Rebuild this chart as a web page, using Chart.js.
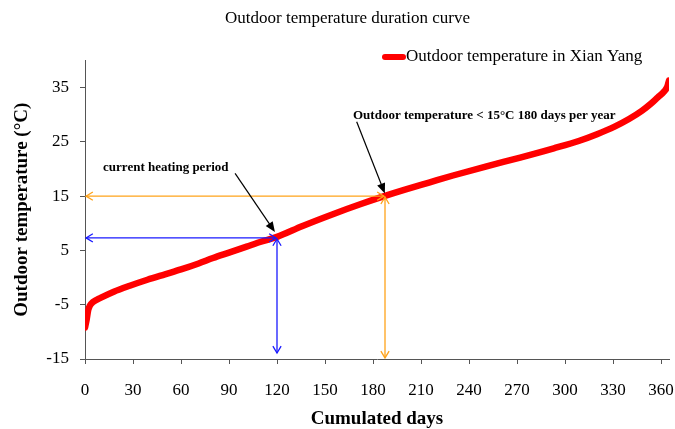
<!DOCTYPE html>
<html>
<head>
<meta charset="utf-8">
<script src="https://cdn.jsdelivr.net/npm/chart.js@4.4.1/dist/chart.umd.min.js"></script>
<style>
  html, body { margin: 0; padding: 0; background: #fff; }
</style>
</head>
<body>
<canvas id="durationChart" width="675" height="429"></canvas>
<script>
// duration curve (days of the year sorted by temperature)
const days  = [0, 1, 2, 3, 5, 10, 18, 28, 39, 50, 60, 71, 80, 90, 101, 110, 120, 136, 157, 172, 187, 200, 215, 230, 251, 272, 293, 309, 320, 331, 340, 348, 354, 358, 362, 364, 365];
const temps = [-9.2, -7.8, -6.0, -5.2, -4.5, -3.7, -2.6, -1.5, -0.4, 0.6, 1.5, 2.6, 3.6, 4.6, 5.7, 6.6, 7.5, 9.5, 11.9, 13.5, 15.0, 16.2, 17.5, 18.8, 20.5, 22.1, 23.8, 25.2, 26.4, 27.8, 29.2, 30.7, 32.1, 33.2, 34.3, 35.2, 36.3];

const xTicks = [0, 30, 60, 90, 120, 150, 180, 210, 240, 270, 300, 330, 360];
const yTicks = [-15, -5, 5, 15, 25, 35];

// reference lines (day, temp)
const heatingEnd = [120, 7.3];
const limitPoint = [187.5, 15];

const serif = "'Liberation Serif', 'Times New Roman', serif";

function openHead(ctx, x, y, ang) {
    ctx.beginPath();
    ctx.moveTo(x + Math.cos(ang + 2.6) * 8, y + Math.sin(ang + 2.6) * 8);
    ctx.lineTo(x, y);
    ctx.lineTo(x + Math.cos(ang - 2.6) * 8, y + Math.sin(ang - 2.6) * 8);
    ctx.stroke();
}

function filledArrow(ctx, x1, y1, x2, y2) {
    const ang = Math.atan2(y2 - y1, x2 - x1);
    ctx.beginPath();
    ctx.moveTo(x1, y1);
    ctx.lineTo(x2 - Math.cos(ang) * 8, y2 - Math.sin(ang) * 8);
    ctx.stroke();
    ctx.beginPath();
    ctx.moveTo(x2, y2);
    ctx.lineTo(x2 + Math.cos(ang + 2.75) * 11, y2 + Math.sin(ang + 2.75) * 11);
    ctx.lineTo(x2 + Math.cos(ang - 2.75) * 11, y2 + Math.sin(ang - 2.75) * 11);
    ctx.closePath();
    ctx.fill();
}

function doubleArrow(ctx, x1, y1, x2, y2, color) {
    ctx.strokeStyle = color;
    ctx.lineWidth = 1.3;
    ctx.beginPath();
    ctx.moveTo(x1, y1);
    ctx.lineTo(x2, y2);
    ctx.stroke();
    const ang = Math.atan2(y2 - y1, x2 - x1);
    openHead(ctx, x2, y2, ang);
    openHead(ctx, x1, y1, ang + Math.PI);
}

const annotations = {
    id: "annotations",
    afterDatasetsDraw(chart) {
        const ctx = chart.ctx;
        const xs = chart.scales.x, ys = chart.scales.y;
        const px = (d) => xs.getPixelForValue(d);
        const py = (t) => ys.getPixelForValue(t);
        ctx.save();
        // orange: 15 C limit
        doubleArrow(ctx, px(0) + 1, py(limitPoint[1]), px(limitPoint[0]) - 1, py(limitPoint[1]), "#ffa31a");
        doubleArrow(ctx, px(limitPoint[0]), py(limitPoint[1]) + 1, px(limitPoint[0]), py(-14.8), "#ffa31a");
        // blue: current heating period
        doubleArrow(ctx, px(0) + 1, py(heatingEnd[1]), px(heatingEnd[0]) - 1, py(heatingEnd[1]), "#1a1aff");
        doubleArrow(ctx, px(heatingEnd[0]), py(heatingEnd[1]) + 1, px(heatingEnd[0]), py(-13.9), "#1a1aff");

        ctx.fillStyle = "#000";
        ctx.strokeStyle = "#000";
        ctx.lineWidth = 1.2;
        filledArrow(ctx, px(93.8), py(19.2), px(118.7), py(8.4));
        filledArrow(ctx, px(169.8), py(28.7), px(187.4), py(15.5));

        ctx.font = "bold 13px " + serif;
        ctx.textBaseline = "middle";
        ctx.textAlign = "left";
        ctx.fillText("current heating period", px(11.3), py(20.3));
        ctx.fillText("Outdoor temperature < 15\u00B0C 180 days per year", px(167.5), py(29.9));

        // legend entry
        ctx.strokeStyle = "#ff0000";
        ctx.lineWidth = 6;
        ctx.lineCap = "round";
        ctx.beginPath();
        ctx.moveTo(385, 57);
        ctx.lineTo(403, 57);
        ctx.stroke();
        ctx.font = "17px " + serif;
        ctx.fillText("Outdoor temperature in Xian Yang", 406, 57);
        ctx.restore();
    }
};

const ctxChart = document.getElementById("durationChart");

new Chart(ctxChart, {
    type: "line",
    data: {
        labels: days,
        datasets: [
            {
                label: "Outdoor temperature in Xian Yang",
                data: days.map((d, i) => ({ x: d, y: temps[i] })),
                borderColor: "#ff0000",
                borderWidth: 6.5,
                pointRadius: 0,
                cubicInterpolationMode: "monotone",
                borderCapStyle: "round",
                fill: false,
            },
        ],
    },
    options: {
        responsive: false,
        animation: false,
        layout: { padding: { left: 20, right: 0, top: 0, bottom: 0 } },
        plugins: {
            legend: { display: false },
            tooltip: { enabled: false },
            title: {
                display: true,
                text: "Outdoor temperature duration curve",
                color: "#000",
                font: { family: serif, size: 17, weight: "normal" },
                padding: { top: 8, bottom: 32 },
            },
        },
        scales: {
            x: {
                type: "linear",
                min: 0,
                max: 365,
                afterBuildTicks: (scale) => { scale.ticks = xTicks.map((v) => ({ value: v })); },
                afterFit: (scale) => { scale.height = 70; scale.paddingRight = 6; },
                grid: { display: true, drawOnChartArea: false, drawTicks: true, tickLength: 5, color: "#555" },
                border: { display: true, color: "#555", width: 1 },
                ticks: { color: "#000", font: { family: serif, size: 17 }, padding: 16, maxRotation: 0 },
                title: {
                    display: true,
                    text: "Cumulated days",
                    color: "#000",
                    font: { family: serif, size: 19, weight: "bold", lineHeight: 1 },
                    padding: { top: 0, bottom: 0 },
                },
            },
            y: {
                min: -15,
                max: 40,
                afterBuildTicks: (scale) => { scale.ticks = yTicks.map((v) => ({ value: v })); },
                afterFit: (scale) => { scale.width = 65; },
                grid: { display: true, drawOnChartArea: false, drawTicks: true, tickLength: 5, color: "#555" },
                border: { display: true, color: "#555", width: 1 },
                ticks: { color: "#000", font: { family: serif, size: 17 }, padding: 11 },
                title: {
                    display: true,
                    text: "Outdoor temperature (\u00B0C)",
                    color: "#000",
                    font: { family: serif, size: 19, weight: "bold", lineHeight: 1 },
                    padding: { top: -7, bottom: 0 },
                },
            },
        },
    },
    plugins: [annotations],
});
</script>
</body>
</html>
